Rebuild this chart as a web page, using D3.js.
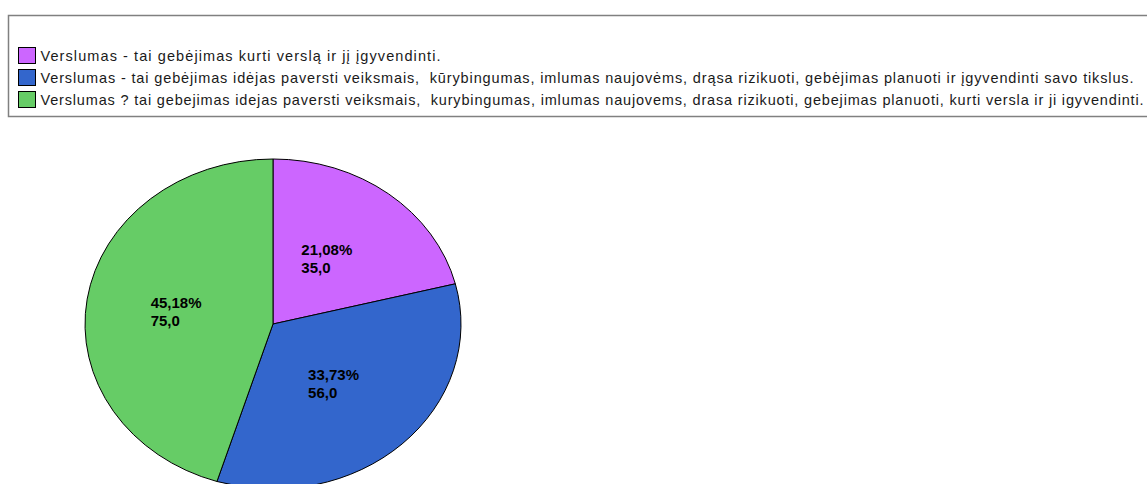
<!DOCTYPE html>
<html>
<head>
<meta charset="utf-8">
<script src="https://cdn.jsdelivr.net/npm/d3@7"></script>
<style>
  body { margin: 0; background: #fff; }
  svg { display: block; }
</style>
</head>
<body>
<div class="chart"></div>
<script>
const width = 1147;
const height = 484;

// legend / categories
const categories = [
  "Verslumas - tai gebėjimas kurti verslą ir jį įgyvendinti.",
  "Verslumas - tai gebėjimas idėjas paversti veiksmais,  kūrybingumas, imlumas naujovėms, drąsa rizikuoti, gebėjimas planuoti ir įgyvendinti savo tikslus.",
  "Verslumas ? tai gebejimas idejas paversti veiksmais,  kurybingumas, imlumas naujovems, drasa rizikuoti, gebejimas planuoti, kurti versla ir ji igyvendinti."
];
const counts = [35, 56, 75];
const percentLabels = ["21,08%", "33,73%", "45,18%"];
const countLabels = ["35,0", "56,0", "75,0"];
const colors = ["#cc66ff", "#3366cc", "#66cc66"];

const cx = 273, cy = 324;
const rx = 188, ry = 165;
// rendered legend line widths in the original (bitmap font is wider)
const legendWidths = [400, 1093, 1103];

const svg = d3.select("div.chart")
  .append("svg")
  .attr("width", width)
  .attr("height", height)
  .attr("viewBox", [0, 0, width, height]);

// legend box
const legend = svg.append("g").attr("class", "legend");
legend.append("rect")
  .attr("x", 8.5).attr("y", 15.5)
  .attr("width", width + 20).attr("height", 101)
  .attr("fill", "#fff")
  .attr("stroke", "#808080")
  .attr("stroke-width", 1.5);

const rows = legend.selectAll("g.row")
  .data(categories)
  .join("g")
  .attr("class", "row")
  .attr("transform", (d, i) => `translate(18.5, ${47.5 + i * 22})`);

rows.append("rect")
  .attr("width", 17).attr("height", 16)
  .attr("fill", (d, i) => colors[i])
  .attr("stroke", "#000");

rows.append("text")
  .attr("x", 22)
  .attr("y", 13)
  .attr("font-family", "Liberation Sans, Arial, sans-serif")
  .attr("font-size", 14.5)
  .attr("fill", "#1a1a1a")
  .attr("textLength", (d, i) => legendWidths[i])
  .attr("lengthAdjust", "spacing")
  .style("white-space", "pre")
  .text(d => d);

// pie (drawn as circle, squashed vertically)
const pie = d3.pie().sort(null).value(d => d);
const arcs = pie(counts);
const arc = d3.arc().innerRadius(0).outerRadius(rx);

const pieG = svg.append("g")
  .attr("transform", `translate(${cx},${cy}) scale(1,${ry / rx})`);

pieG.selectAll("path")
  .data(arcs)
  .join("path")
  .attr("d", arc)
  .attr("fill", (d, i) => colors[i])
  .attr("stroke", "#000")
  .attr("stroke-width", 1)
  .attr("vector-effect", "non-scaling-stroke");

// labels
const labelArc = d3.arc().innerRadius(rx * 0.5).outerRadius(rx * 0.5);
const labels = svg.append("g")
  .attr("font-family", "Liberation Sans, Arial, sans-serif")
  .attr("font-size", 15)
  .attr("font-weight", "bold")
  .attr("fill", "#000");

arcs.forEach((a, i) => {
  const [lx, ly] = labelArc.centroid(a);
  const px = cx + lx - 4, py = cy + ly * ry / rx;
  const t = labels.append("text").attr("y", py - 4);
  t.append("tspan").attr("x", 0).text(percentLabels[i]);
  t.append("tspan").attr("x", 0).attr("dy", 18).text(countLabels[i]);
  const w = t.node().getBBox().width;
  t.selectAll("tspan").attr("x", px - w / 2);
});
</script>
</body>
</html>
